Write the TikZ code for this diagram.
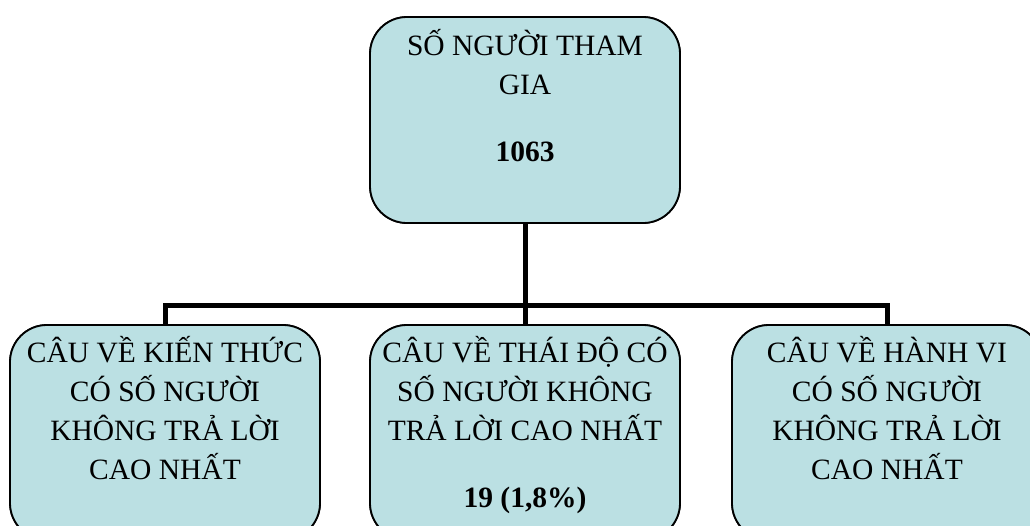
\documentclass[tikz,border=0pt]{standalone}
\usepackage{fontspec}
\setmainfont{Liberation Serif}
\definecolor{boxfill}{RGB}{187,224,227}
\tikzset{
  x=1pt, y=-1pt,
  orgbox/.style={draw=black, line width=1.8pt, fill=boxfill, rounded corners=37pt,
    minimum width=310pt, inner sep=0pt},
  conn/.style={draw=black, line width=5pt, line join=miter},
  txt/.style={anchor=base, inner sep=0pt, font=\fontsize{29.5}{39}\selectfont},
}
\newcommand{\boxtext}[1]{\parbox[t]{306pt}{\centering #1}}
\begin{document}
\begin{tikzpicture}
  \useasboundingbox (0,0) rectangle (1030,525);
  \fill[white] (0,0) rectangle (1030,525);
  % bus line coordinates
  \coordinate (bus) at (525,305);
  % boxes
  \node[orgbox, minimum height=206pt] (top) at (525,120) {};
  \node[orgbox, minimum height=215pt] (left) at (165,432.5) {};
  \node[orgbox, minimum height=215pt] (mid) at (525,432.5) {};
  \node[orgbox, minimum height=215pt] (right) at (887,432.5) {};
  % connectors
  \draw[conn] (top.south) -- (top.south |- bus);
  \draw[conn] (left.north) -- (left.north |- bus) -- (right.north |- bus) -- (right.north);
  \draw[conn] (mid.north) -- (mid.north |- bus);
  % redraw box borders over connector ends
  \node[orgbox, minimum height=206pt] at (top) {};
  \node[orgbox, minimum height=215pt] at (left) {};
  \node[orgbox, minimum height=215pt] at (mid) {};
  \node[orgbox, minimum height=215pt] at (right) {};
  % texts
  \node[txt] (toptxt) at (525,55) {\boxtext{SỐ NGƯỜI THAM\\GIA\\[28pt]\textbf{1063}}};
  \node[txt] (lefttxt) at (165,362) {\boxtext{CÂU VỀ KIẾN THỨC\\CÓ SỐ NGƯỜI\\KHÔNG TRẢ LỜI\\CAO NHẤT}};
  \node[txt] (midtxt) at (525,362) {\boxtext{CÂU VỀ THÁI ĐỘ CÓ\\SỐ NGƯỜI KHÔNG\\TRẢ LỜI CAO NHẤT\\[28pt]\textbf{19 (1,8\%)}}};
  \node[txt] (righttxt) at (887,362) {\boxtext{CÂU VỀ HÀNH VI\\CÓ SỐ NGƯỜI\\KHÔNG TRẢ LỜI\\CAO NHẤT}};
\end{tikzpicture}
\end{document}
